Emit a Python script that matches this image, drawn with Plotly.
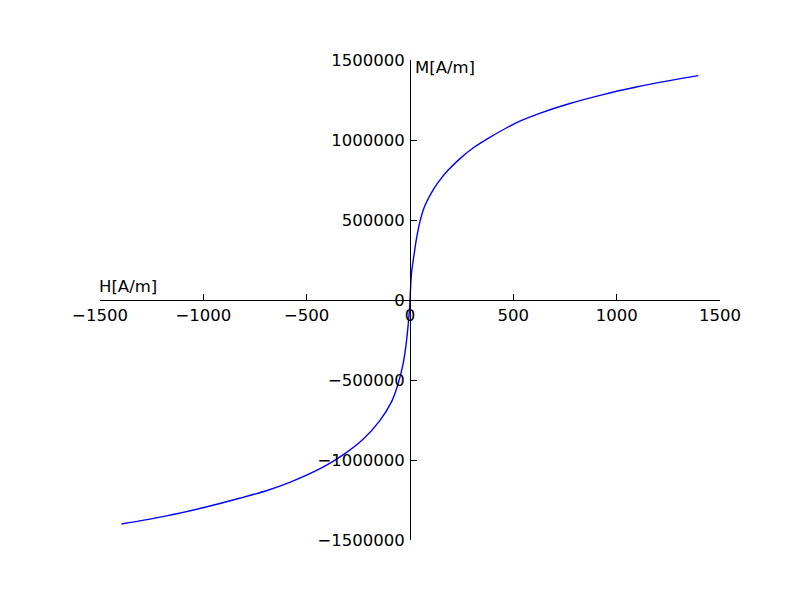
import plotly.graph_objects as go

# Magnetisation curve
H_values = [-1396, -1178, -1017, -856, -695, -582, -421, -324, -227, -147, -89, -57, -32,
            -16, -6, -2, 0,
            2, 8, 19, 32, 48, 69, 105, 137, 185, 250, 305, 380, 466, 540, 627, 773,
            934, 1095, 1256, 1395]
M_values = [-1400000, -1349000, -1303000, -1250000, -1192000, -1140000, -1045000, -968000,
            -870000, -755000, -635000, -522000, -390000, -245000, -115000, -50000, 0,
            55000, 175000, 278000, 388000, 490000, 580000, 673000, 737000, 812000, 893000,
            950000, 1012000, 1075000, 1122000, 1166000, 1228000, 1284000, 1331000,
            1371000, 1402000]

x_tickvals = [-1500, -1000, -500, 0, 500, 1000, 1500]
x_ticktext = ["\u22121500", "\u22121000", "\u2212500", "0", "500", "1000", "1500"]
y_tickvals = [-1500000, -1000000, -500000, 0, 500000, 1000000, 1500000]
y_ticktext = ["\u22121500000", "\u22121000000", "\u2212500000", "0", "500000", "1000000", "1500000"]

x_label = "H[A/m]"
y_label = "M[A/m]"

fig = go.Figure()
fig.add_trace(go.Scatter(x=H_values, y=M_values, mode="lines",
                         line=dict(color="#0000ff", width=1.4, shape="spline", smoothing=1.0),
                         showlegend=False, hoverinfo="skip"))

font = dict(family="DejaVu Sans", size=16.5, color="black")

# the page body has an 8 px margin, so the figure is sized and placed to compensate
fig.update_layout(
    width=784, height=584,
    margin=dict(l=92, r=72, t=52, b=52),
    paper_bgcolor="white", plot_bgcolor="white",
    font=font,
    xaxis=dict(range=[-1500, 1500], tickvals=x_tickvals, ticktext=x_ticktext,
               showgrid=False, zeroline=False, showline=True, linecolor="black", linewidth=1,
               ticks="inside", ticklen=6, tickcolor="black", tickwidth=1,
               anchor="free", position=0.5, tickfont=font),
    yaxis=dict(range=[-1500000, 1500000], tickvals=y_tickvals, ticktext=y_ticktext,
               showgrid=False, zeroline=False, showline=True, linecolor="black", linewidth=1,
               ticks="inside", ticklen=6, tickcolor="black", tickwidth=1,
               anchor="free", position=0.5, tickfont=font, ticklabelstandoff=2),
    annotations=[
        dict(x=-1500, y=0, xref="x", yref="y", text=x_label, showarrow=False,
             xanchor="left", yanchor="bottom", xshift=-3, yshift=2, font=font),
        dict(x=0, y=1500000, xref="x", yref="y", text=y_label, showarrow=False,
             xanchor="left", yanchor="top", xshift=3, yshift=4, font=font),
    ],
)

fig.write_html("out.html")
